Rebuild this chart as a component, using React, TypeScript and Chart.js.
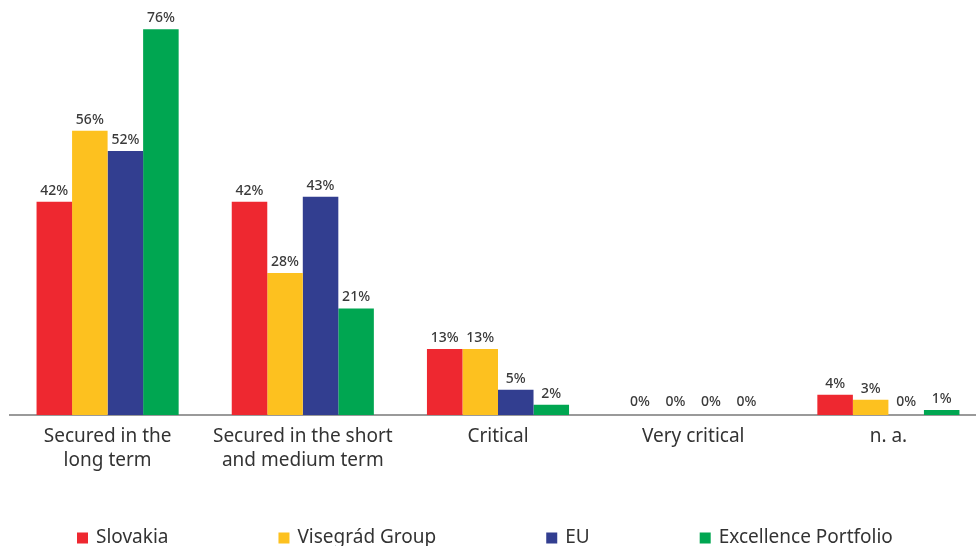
import React, { useEffect, useRef } from "react";
import { Chart, registerables } from "chart.js";

Chart.register(...registerables);

const categories: string[][] = [
  ["Secured in the", "long term"],
  ["Secured in the short", "and medium term"],
  ["Critical"],
  ["Very critical"],
  ["n. a."],
];
const seriesNames = ["Slovakia", "Visegrád Group", "EU", "Excellence Portfolio"];
const seriesColors = ["#EE2830", "#FDC11F", "#323E90", "#00A651"];
const slovakia = [42, 42, 13, 0, 4];
const visegrad = [56, 28, 13, 0, 3];
const eu = [52, 43, 5, 0, 0];
const excellence = [76, 21, 2, 0, 1];
const seriesValues = [slovakia, visegrad, eu, excellence];

const FONT = "'Noto Sans', 'Open Sans', sans-serif";
const TEXT = "#333333";

const valueLabels = {
  id: "valueLabels",
  afterDatasetsDraw(chart: any) {
    const ctx = chart.ctx;
    ctx.save();
    ctx.font = `500 14px ${FONT}`;
    ctx.fillStyle = "#3a3a3a";
    ctx.textAlign = "center";
    ctx.textBaseline = "middle";
    chart.data.datasets.forEach((ds: any, i: number) => {
      const meta = chart.getDatasetMeta(i);
      meta.data.forEach((bar: any, j: number) => {
        const offset = ds.data[j] === 0 ? 13 : 11;
        ctx.fillText(`${ds.data[j]}%`, bar.x, bar.y - offset);
      });
    });
    ctx.restore();
  },
};

const customLegend = {
  id: "customLegend",
  afterDraw(chart: any) {
    const ctx = chart.ctx;
    ctx.save();
    ctx.font = `19px ${FONT}`;
    ctx.textBaseline = "middle";
    ctx.textAlign = "left";
    const box = 11;
    const boxGap = 8;
    const itemGap = 110;
    const y = 538;
    let x = 77;
    chart.data.datasets.forEach((ds: any) => {
      ctx.fillStyle = ds.backgroundColor;
      ctx.fillRect(x, y - box / 2, box, box);
      ctx.fillStyle = TEXT;
      ctx.fillText(ds.label, x + box + boxGap, y);
      x += box + boxGap + ctx.measureText(ds.label).width + itemGap;
    });
    ctx.restore();
  },
};

export default function App() {
  const ref = useRef<HTMLCanvasElement>(null);
  useEffect(() => {
    if (!ref.current) return;
    const chart = new Chart(ref.current, {
      type: "bar",
      data: {
        labels: categories,
        datasets: seriesNames.map((name, i) => ({
          label: name,
          data: seriesValues[i],
          backgroundColor: seriesColors[i],
          borderWidth: 0,
          barPercentage: 1,
          categoryPercentage: 0.728,
        })),
      },
      options: {
        responsive: false,
        animation: false,
        layout: { padding: { top: 9, left: 10, right: 10, bottom: 0 } },
        plugins: {
          legend: { display: false },
          tooltip: { enabled: false },
        },
        scales: {
          x: {
            grid: { display: false, drawTicks: false },
            border: { display: true, color: "#9A9A9A", width: 2 },
            ticks: {
              color: TEXT,
              font: { family: FONT, size: 19, lineHeight: "24px" },
              padding: 10,
              maxRotation: 0,
              autoSkip: false,
            },
            afterFit: (scale: any) => {
              scale.height = 145;
            },
          },
          y: {
            display: false,
            min: 0,
            max: 80,
          },
        },
      },
      plugins: [valueLabels, customLegend],
    });
    return () => chart.destroy();
  }, []);
  return (
    <div
      style={{
        position: "fixed",
        left: 0,
        top: 0,
        width: "976px",
        height: "546px",
        overflow: "hidden",
        background: "#fff",
      }}
    >
      <canvas
        ref={ref}
        width={996}
        height={560}
        style={{ display: "block", width: "996px", height: "560px" }}
      />
    </div>
  );
}
